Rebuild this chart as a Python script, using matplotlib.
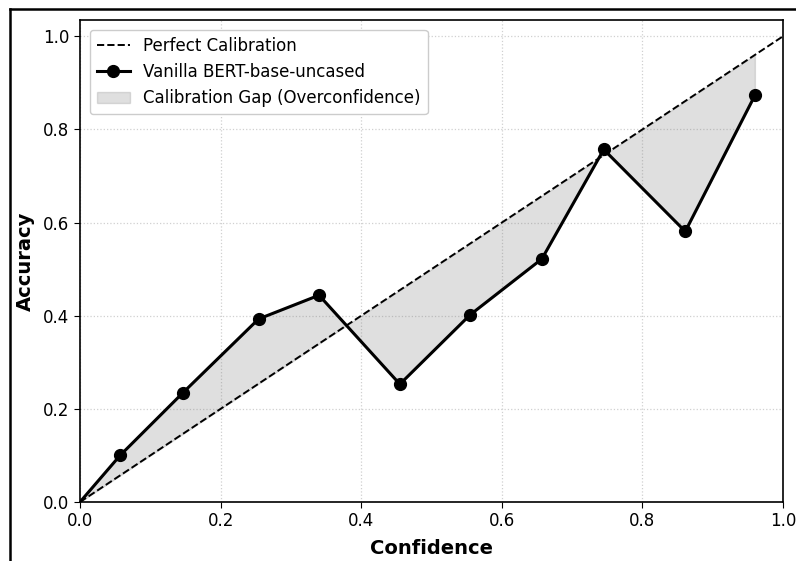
import numpy as np
import matplotlib
matplotlib.use('Agg')
import matplotlib.pyplot as plt
from matplotlib.lines import Line2D

# reliability diagram values
confidence = [0.057, 0.146, 0.254, 0.340, 0.455, 0.555, 0.657, 0.745, 0.861, 0.960]
accuracy = [0.100, 0.234, 0.393, 0.444, 0.253, 0.402, 0.522, 0.757, 0.581, 0.873]
ticks = [0.0, 0.2, 0.4, 0.6, 0.8, 1.0]

# line starts at the origin
conf_line = np.array([0.0] + confidence)
acc_line = np.array([0.0] + accuracy)

fig = plt.figure(figsize=(7.96, 5.61), dpi=100)
ax = fig.add_axes([80 / 796, 59 / 561, 703 / 796, 482 / 561])

ax.plot([0, 1], [0, 1], color='black', linestyle='--', linewidth=1.4,
        label='Perfect Calibration', zorder=3)
ax.plot(conf_line, acc_line, color='black', linewidth=2.2, marker='o', markersize=8.5,
        markevery=list(range(1, len(conf_line))), label='Vanilla BERT-base-uncased', zorder=4)
ax.fill_between(conf_line, conf_line, acc_line, color='gray', alpha=0.25,
                label='Calibration Gap (Overconfidence)', zorder=2)

ax.set_xlim(0, 1)
ax.set_ylim(0, 1.035)
ax.set_xticks(ticks)
ax.set_yticks(ticks)
ax.tick_params(labelsize=12, length=4)
ax.grid(True, linestyle=':', color='#d0d0d0', linewidth=0.9)
ax.set_axisbelow(True)
ax.set_xlabel('Confidence', fontsize=14, fontweight='bold', labelpad=6)
ax.set_ylabel('Accuracy', fontsize=14, fontweight='bold', labelpad=6)
for s in ax.spines.values():
    s.set_linewidth(1.2)

ax.legend(loc='upper left', fontsize=12, framealpha=1, edgecolor='#cccccc',
          borderaxespad=0.6)

# border lines of the original screenshot
fig.add_artist(Line2D([10 / 796, 1], [1 - 9 / 561, 1 - 9 / 561], color='black',
                      linewidth=1.8, transform=fig.transFigure))
fig.add_artist(Line2D([10 / 796, 10 / 796], [0, 1 - 9 / 561], color='black',
                      linewidth=1.8, transform=fig.transFigure))

fig.savefig('out.png', dpi=100)
